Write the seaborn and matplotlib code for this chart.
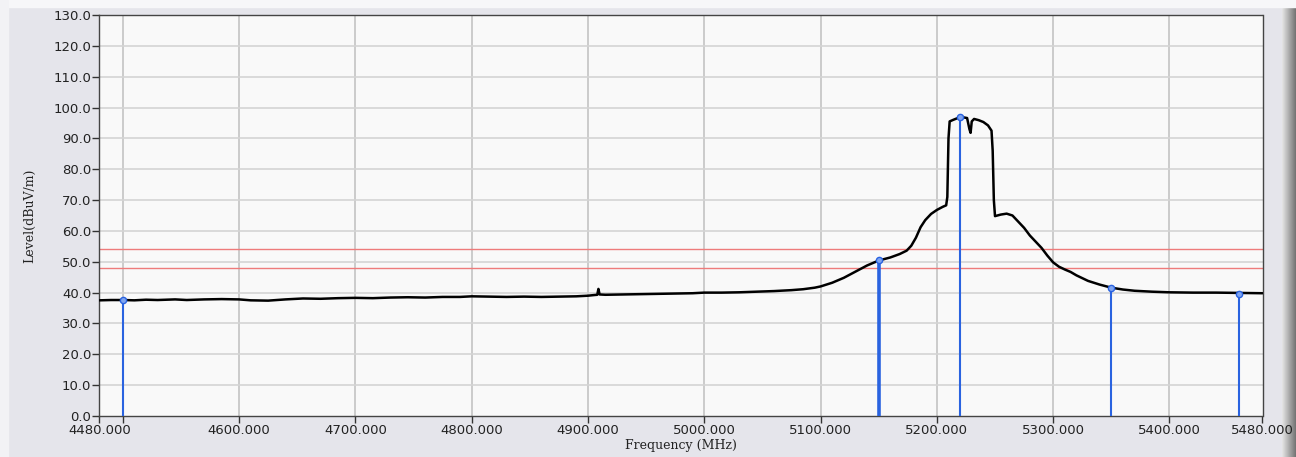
import numpy as np
import pandas as pd
import matplotlib
matplotlib.use('Agg')
import matplotlib.pyplot as plt
import seaborn as sns

# trace (MHz, dBuV/m)
freq = [4480, 4490, 4500, 4510, 4520, 4530, 4545, 4555, 4570, 4585, 4600, 4610, 4625, 4640,
        4655, 4670, 4685, 4700, 4715, 4730, 4745, 4760, 4775, 4790, 4800, 4815, 4830, 4845,
        4860, 4875, 4890, 4900, 4905, 4908, 4909, 4910, 4915, 4930, 4945, 4960, 4975, 4990,
        5000, 5015, 5030, 5045, 5060, 5075, 5085, 5095, 5100, 5110, 5120, 5130, 5140, 5150,
        5160, 5168, 5174, 5178, 5182, 5186, 5190, 5195, 5200, 5205, 5208, 5209, 5210, 5211,
        5214, 5218, 5220, 5223, 5226, 5228, 5229, 5230, 5232, 5236, 5240, 5244, 5247, 5248,
        5249, 5250, 5255, 5260, 5265, 5270, 5275, 5280, 5285, 5290, 5295, 5300, 5305, 5310,
        5315, 5320, 5330, 5340, 5350, 5360, 5370, 5385, 5400, 5420, 5440, 5460, 5480]
level = [37.5, 37.6, 37.6, 37.5, 37.7, 37.6, 37.8, 37.6, 37.8, 37.9, 37.8, 37.5, 37.4, 37.8,
         38.1, 38.0, 38.2, 38.3, 38.2, 38.4, 38.5, 38.4, 38.6, 38.6, 38.8, 38.7, 38.6, 38.7,
         38.6, 38.7, 38.8, 39.0, 39.2, 39.3, 41.2, 39.4, 39.3, 39.4, 39.5, 39.6, 39.7, 39.8,
         40.0, 40.0, 40.1, 40.3, 40.5, 40.8, 41.1, 41.6, 42.0, 43.2, 44.8, 46.8, 48.8, 50.4,
         51.4, 52.5, 53.6, 55.2, 57.8, 61.2, 63.5, 65.5, 66.8, 67.8, 68.3, 71.0, 90.0, 95.5,
         96.0, 96.6, 97.0, 96.8, 96.6, 93.0, 91.8, 95.5, 96.3, 95.9, 95.3, 94.2, 92.5, 86.0,
         70.0, 64.8, 65.3, 65.6, 65.0, 63.0, 61.0, 58.5, 56.5, 54.5, 52.0, 49.8, 48.4, 47.5,
         46.7, 45.6, 43.8, 42.6, 41.6, 41.0, 40.6, 40.3, 40.1, 40.0, 40.0, 39.9, 39.8]

# markers (blue sticks)
marker_freq = [4500, 5150, 5220, 5350, 5460]
marker_level = [37.6, 50.5, 97.0, 41.5, 39.5]

# limit lines
limits = [54.0, 48.0]

xtick_vals = [4480, 4600, 4700, 4800, 4900, 5000, 5100, 5200, 5300, 5400, 5480]
ytick_vals = list(range(0, 131, 10))

df = pd.DataFrame({'Frequency': freq, 'Level': level})

sns.set_theme(style='white')
plt.rcParams['font.family'] = ['DejaVu Sans']

fig = plt.figure(figsize=(12.96, 4.57), dpi=100)
fig.patch.set_facecolor('#e5e5eb')

# light band on top and left, shaded strip on the right
fig.patches.append(plt.Rectangle((0, 0.985), 1, 0.015, transform=fig.transFigure,
                                 color='#f7f7f9', zorder=0))
fig.patches.append(plt.Rectangle((0, 0), 0.006, 1, transform=fig.transFigure,
                                 color='#f2f2f5', zorder=0))
strip = fig.add_axes([1282 / 1296, 0, 14 / 1296, 0.985])
grad = np.linspace(0.9, 0.45, 50).reshape(1, -1)
strip.imshow(grad, aspect='auto', cmap='gray', vmin=0, vmax=1)
strip.set_axis_off()

ax = fig.add_axes([99.5 / 1296, 1 - 416 / 457, 1163 / 1296, 401 / 457])
ax.set_facecolor('#f9f9f9')

for v in range(4500, 5401, 100):
    ax.axvline(v, color='#c8c8c8', lw=1.3, zorder=0)
for v in ytick_vals[1:]:
    ax.axhline(v, color='#d4d4d4', lw=1.2, zorder=0)

for lim in limits:
    ax.axhline(lim, color='#ee7b7b', lw=1.0, zorder=1)

sns.lineplot(data=df, x='Frequency', y='Level', color='black', lw=1.8, ax=ax, zorder=3)

for f, l in zip(marker_freq, marker_level):
    w = 2.6 if f == 5150 else 1.5
    ax.vlines(f, 0, l, color='#2a63e0', lw=w, zorder=4)
    ax.plot(f, l, 'o', ms=4.5, mfc='#7fa4f0', mec='#2a63e0', mew=1.0, zorder=5)

ax.set_xlim(4480, 5480)
ax.set_ylim(0, 130)
ax.set_xticks(xtick_vals)
ax.set_xticklabels([f'{v:.3f}' for v in xtick_vals])
ax.set_xticks([4500], minor=True)
ax.set_yticks(ytick_vals)
ax.set_yticklabels([f'{v:.1f}' for v in ytick_vals])
ax.tick_params(axis='both', which='both', direction='out', length=5, width=1,
               color='#333333', labelsize=9.5, labelcolor='#222222', pad=1,
               bottom=True, left=True)
for s in ax.spines.values():
    s.set_color('#444444')
    s.set_linewidth(1.0)

ax.set_xlabel('Frequency (MHz)', family='DejaVu Serif', fontsize=9, labelpad=1, color='#222222')
ax.set_ylabel('Level(dBuV/m)', family='DejaVu Serif', fontsize=9, labelpad=12, color='#222222')

fig.savefig('out.png', dpi=100, facecolor=fig.get_facecolor())
